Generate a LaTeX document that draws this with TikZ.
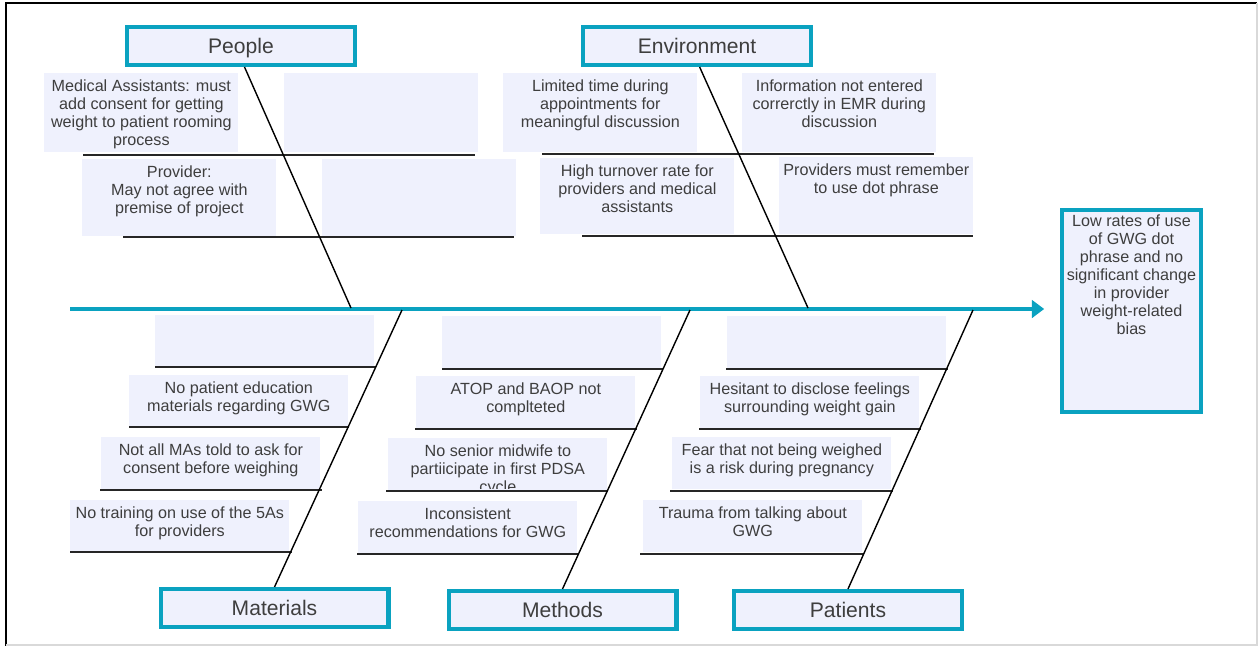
\documentclass[tikz,border=0pt]{standalone}
\usepackage{fontspec}
\setmainfont{Liberation Sans}
\usetikzlibrary{arrows.meta}

\definecolor{fishblue}{RGB}{10,162,192}
\definecolor{boxfill}{RGB}{239,241,253}
\definecolor{inkgray}{RGB}{62,62,62}

\tikzset{
  causebox/.style={draw=fishblue, line width=2.3pt, fill=boxfill, minimum width=4.56cm, minimum height=0.76cm, inner sep=0pt, text height=1.6ex, text depth=0pt, text=inkgray, font=\fontsize{12}{14}\selectfont},
  itembox/.style={fill=boxfill, anchor=north west, inner sep=0pt},
  itemtext/.style={anchor=north, inner sep=0pt, yshift=-3.7pt, align=center, text=inkgray, font=\fontsize{9.2}{10.2}\selectfont},
  rib/.style={line width=1pt, black!85},
  bone/.style={line width=0.8pt, black}
}

\begin{document}
\begin{tikzpicture}[x=0.02cm, y=-0.02cm]
\useasboundingbox (0,0) rectangle (1259,646);
% frame
\draw[black, line width=1pt] (6,646) -- (6,3) -- (1257,3);
\draw[black!15, line width=0.6pt] (1257,3) -- (1257,645) -- (6,645);

% cause boxes above the spine
\foreach \n/\x/\y/\h/\t in {
  p1/44/73/1.58cm/{Medical Assistants: must\\add consent for getting\\weight to patient rooming\\process},
  p2/284/73/1.58cm/{},
  p3/82/159/1.54cm/{Provider:\\May not agree with\\premise of project},
  p4/322/159/1.54cm/{},
  e1/503/73/1.58cm/{Limited time during\\appointments for\\meaningful discussion},
  e2/742/73/1.58cm/{Information not entered\\correrctly in EMR during\\discussion},
  e3/540/158/1.52cm/{High turnover rate for\\providers and medical\\assistants},
  e4/779/157/1.54cm/{Providers must remember\\to use dot phrase}} {
  \node[itembox, minimum width=3.88cm, minimum height=\h] (\n) at (\x,\y) {};
  \node[itemtext] at (\n.north) {\t};
}

% cause boxes below the spine
\foreach \n/\x/\y/\t in {
  a1/155/315/{},
  a2/129/375/{No patient education\\materials regarding GWG},
  a3/101/437/{Not all MAs told to ask for\\consent before weighing},
  a4/70/500/{No training on use of the 5As\\for providers},
  b1/442/316/{},
  b2/416/376/{ATOP and BAOP not\\complteted},
  b3/388/438/{No senior midwife to\\partiicipate in first PDSA\\cycle},
  b4/358/501/{Inconsistent\\recommendations for GWG},
  c1/727/316/{},
  c2/700/376/{Hesitant to disclose feelings\\surrounding weight gain},
  c3/672/437/{Fear that not being weighed\\is a risk during pregnancy},
  c4/643/500/{Trauma from talking about\\GWG}} {
  \node[itembox, minimum width=4.38cm, minimum height=1.04cm] (\n) at (\x,\y) {};
  \begin{scope}
    \clip (\n.north west) rectangle ([yshift=1.5pt]\n.south east);
    \node[itemtext] at (\n.north) {\t};
  \end{scope}
}

% ribs under the boxes
\foreach \y/\a/\b in {155/83/475, 237/123/514, 154/542/934, 236/582/973,
  367/155/376, 427/129/349, 490/100/322, 552/70/292,
  369/442/663, 429/415/637, 491/386/608, 554/357/579,
  369/726/948, 429/699/921, 491/670/893, 554/640/864}
  \draw[rib] (\a,\y) -- (\b,\y);

% categories
\node[causebox] (people) at (241,46) {People};
\node[causebox] (environment) at (697,46) {Environment};
\node[causebox] (materials) at (274.5,608) {Materials};
\node[causebox] (methods) at (562.5,610) {Methods};
\node[causebox] (patients) at (848,610) {Patients};

% effect
\node[draw=fishblue, line width=2.3pt, fill=boxfill, minimum width=2.78cm, minimum height=4.04cm, inner sep=0pt] (effect) at (1131.5,311) {};
\node[itemtext] at (effect.north) {Low rates of use\\of GWG dot\\phrase and no\\significant change\\in provider\\weight-related\\bias};

% spine
\coordinate (tail) at (70,309);
\draw[fishblue, line width=2.3pt, -{Triangle[length=7pt,width=10pt]}, shorten >=9pt] (tail) -- (tail -| effect.west);

% bones
\coordinate (jpeople) at (351,308);
\coordinate (jenv) at (808,308);
\coordinate (jmat) at (402,310);
\coordinate (jmeth) at (690,310);
\coordinate (jpat) at (973,310);
\draw[bone] ([xshift=2pt]people.south) -- (jpeople);
\draw[bone] ([xshift=1.5pt]environment.south) -- (jenv);
\draw[bone] (materials.north) -- (jmat);
\draw[bone] (methods.north) -- (jmeth);
\draw[bone] (patients.north) -- (jpat);
\end{tikzpicture}
\end{document}
